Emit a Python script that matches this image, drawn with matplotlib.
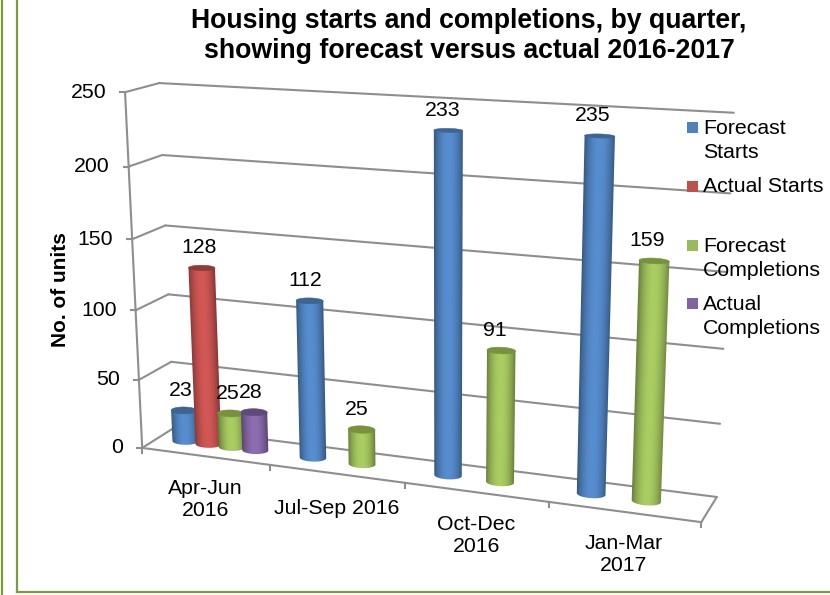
import numpy as np
import matplotlib
matplotlib.use("Agg")
import matplotlib.pyplot as plt
from matplotlib.colors import to_rgb
from matplotlib.patches import Polygon, Rectangle

plt.rcParams['font.family'] = ['Liberation Sans', 'DejaVu Sans']

# Data
categories = ["Apr-Jun\n2016", "Jul-Sep 2016", "Oct-Dec\n2016", "Jan-Mar\n2017"]
series_names = ["Forecast\nStarts", "Actual Starts", "Forecast\nCompletions", "Actual\nCompletions"]
forecast_starts = [23, 112, 233, 235]
actual_starts = [128, None, None, None]
forecast_completions = [25, 25, 91, 159]
actual_completions = [28, None, None, None]
y_ticks = [0, 50, 100, 150, 200, 250]

all_series = [forecast_starts, actual_starts, forecast_completions, actual_completions]
colors = ['#4F81BD', '#C0504D', '#9BBB59', '#8064A2']
cap_colors = ['#3C6594', '#8F3B39', '#76923C', '#5F4A7B']

GRID = '#8E8E8E'
BORDER = '#7B9B3C'
FS = 15.3

# Chart box corners seen in the picture: (cat, depth, value) -> pixel
world_pts = [(0, 0, 0), (0, 0, 250), (0, 1, 0), (0, 1, 250),
             (4, 1, 0), (4, 1, 250), (4, 0, 0),
             (0, 1, 50), (0, 1, 150), (0, 1, 200),
             (4, 1, 50), (4, 1, 150), (4, 1, 200),
             (1, 0, 0), (2, 0, 0), (3, 0, 0)]
pixel_pts = [(143, 447), (125, 92), (175, 429), (160, 83),
             (717, 496), (734, 113), (702, 523),
             (170, 362), (165, 225), (162, 155),
             (720, 423), (727, 272), (730, 194),
             (270, 465), (405, 483), (548, 502)]


def fit_camera(world, pixel):
    rows = []
    for (X, Y, Z), (u, v) in zip(world, pixel):
        Z = Z / 100
        rows.append([X, Y, Z, 1, 0, 0, 0, 0, -u*X, -u*Y, -u*Z, -u])
        rows.append([0, 0, 0, 0, X, Y, Z, 1, -v*X, -v*Y, -v*Z, -v])
    _, _, vt = np.linalg.svd(np.array(rows, dtype=float))
    return vt[-1].reshape(3, 4)


CAM = fit_camera(world_pts, pixel_pts)


def project(x, y, z):
    x, y, z = np.broadcast_arrays(np.asarray(x, float), np.asarray(y, float), np.asarray(z, float))
    p = np.stack([x, y, z / 100, np.ones_like(x)])
    q = np.tensordot(CAM, p, axes=1)
    return q[0] / q[2], q[1] / q[2]


def line3d(ax, a, b):
    px, py = project([a[0], b[0]], [a[1], b[1]], [a[2], b[2]])
    ax.plot(px, py, color=GRID, lw=1.5, solid_capstyle='round')


def cylinder(ax, xc, value, color, cap, rx=0.095, ry=0.16, yc=0.5):
    theta = np.radians(np.arange(0, 360, 3))
    cx = xc + rx * np.cos(theta)
    cy = yc + ry * np.sin(theta)
    bx, by = project(cx, cy, 0)
    tx, ty = project(cx, cy, value)

    # silhouette: the two tangent lines of the tube
    i0 = np.argmin(bx + tx)
    i1 = np.argmax(bx + tx)
    idx = [i0]
    while idx[-1] != i1:
        idx.append((idx[-1] + 1) % len(theta))

    # horizontal shading across the tube, row by row
    top, bottom = ty[[i0, i1]].min() - 2, by[idx].max() + 2
    left = min(bx[i0], tx[i0]) - 2
    right = max(bx[i1], tx[i1]) + 2
    ys = np.arange(top, bottom, 1.0)
    xs = np.arange(left, right, 0.5)
    xl = bx[i0] + (ys - by[i0]) * (tx[i0] - bx[i0]) / (ty[i0] - by[i0])
    xr = bx[i1] + (ys - by[i1]) * (tx[i1] - bx[i1]) / (ty[i1] - by[i1])
    u = np.clip((xs[None, :] - xl[:, None]) / (xr - xl)[:, None], 0, 1)
    shade = 0.68 + 0.42 * np.sin(np.pi * u) ** 0.8
    img = np.clip(shade[:, :, None] * np.array(to_rgb(color)), 0, 1)
    im = ax.imshow(img, extent=(xs[0], xs[-1], ys[-1], ys[0]), aspect='auto',
                   interpolation='bilinear', zorder=3)
    outline = [(tx[i0], ty[i0])] + [(bx[i], by[i]) for i in idx] + [(tx[i1], ty[i1])]
    im.set_clip_path(Polygon(outline, closed=True, transform=ax.transData))

    ax.add_patch(Polygon(np.column_stack([tx, ty]), closed=True, facecolor=cap,
                         edgecolor=cap, lw=0.4, zorder=3))


fig = plt.figure(figsize=(8.3, 5.95), dpi=100)
ax = fig.add_axes([0, 0, 1, 1])
ax.set_xlim(0, 830)
ax.set_ylim(595, 0)
ax.set_autoscale_on(False)
ax.axis('off')

# slide border
ax.plot([2, 2], [0, 595], color=BORDER, lw=1.6)
ax.plot([17, 17], [0, 592], color=BORDER, lw=1.6)
ax.plot([17, 830], [592, 592], color=BORDER, lw=1.6)

# walls and floor
for t in y_ticks:
    line3d(ax, (0, 0, t), (0, 1, t))
    line3d(ax, (0, 1, t), (4, 1, t))
    px, py = project(0, 0, t)
    ax.plot([px - 5, px], [py, py], color=GRID, lw=1.5)
    ax.text(px - 19, py, str(t), ha='right', va='center', fontsize=FS, color='black')
line3d(ax, (0, 0, 0), (0, 0, 250))
line3d(ax, (0, 0, 0), (4, 0, 0))
line3d(ax, (4, 0, 0), (4, 1, 0))
for i in range(5):
    px, py = project(i, 0, 0)
    ax.plot([px, px], [py, py + 5], color=GRID, lw=1.5)

# cylinders, left one is furthest away
slot = 0.185
for cat in range(4):
    for s, vals in enumerate(all_series):
        v = vals[cat]
        if v is None:
            continue
        xc = cat + 0.495 + (s - 1.5) * slot
        cylinder(ax, xc, v, colors[s], cap_colors[s])
        px, py = project(xc, 0.5, v)
        ax.text(px - 3 - 1.5 * cat, py - 20, str(v), ha='center', va='center', fontsize=FS,
                color='black', zorder=5)

# category labels
for cat, name in enumerate(categories):
    px, py = project(cat + 0.5, 0, 0)
    ax.text(px, py + 35 + 8 * name.count("\n"), name, ha='center', va='center', fontsize=FS,
            linespacing=1.2, color='black')

# legend
legend_y = [127, 186, 245, 303]
for name, c, ly in zip(series_names, colors, legend_y):
    ax.add_patch(Rectangle((687, ly - 5.5), 11, 11, facecolor=c, edgecolor='none', zorder=5))
    ax.text(703, ly - 8.5, name, ha='left', va='top', fontsize=FS, linespacing=1.36, color='black', zorder=5)

ax.text(469, 36, "Housing starts and completions, by quarter,\nshowing forecast versus actual 2016-2017",
        ha='center', va='center', fontsize=19.2, fontweight='bold', linespacing=1.25)
ax.text(60, 290, "No. of units", rotation=90, ha='center', va='center', fontsize=15, fontweight='bold')

plt.savefig("out.png", dpi=100)
